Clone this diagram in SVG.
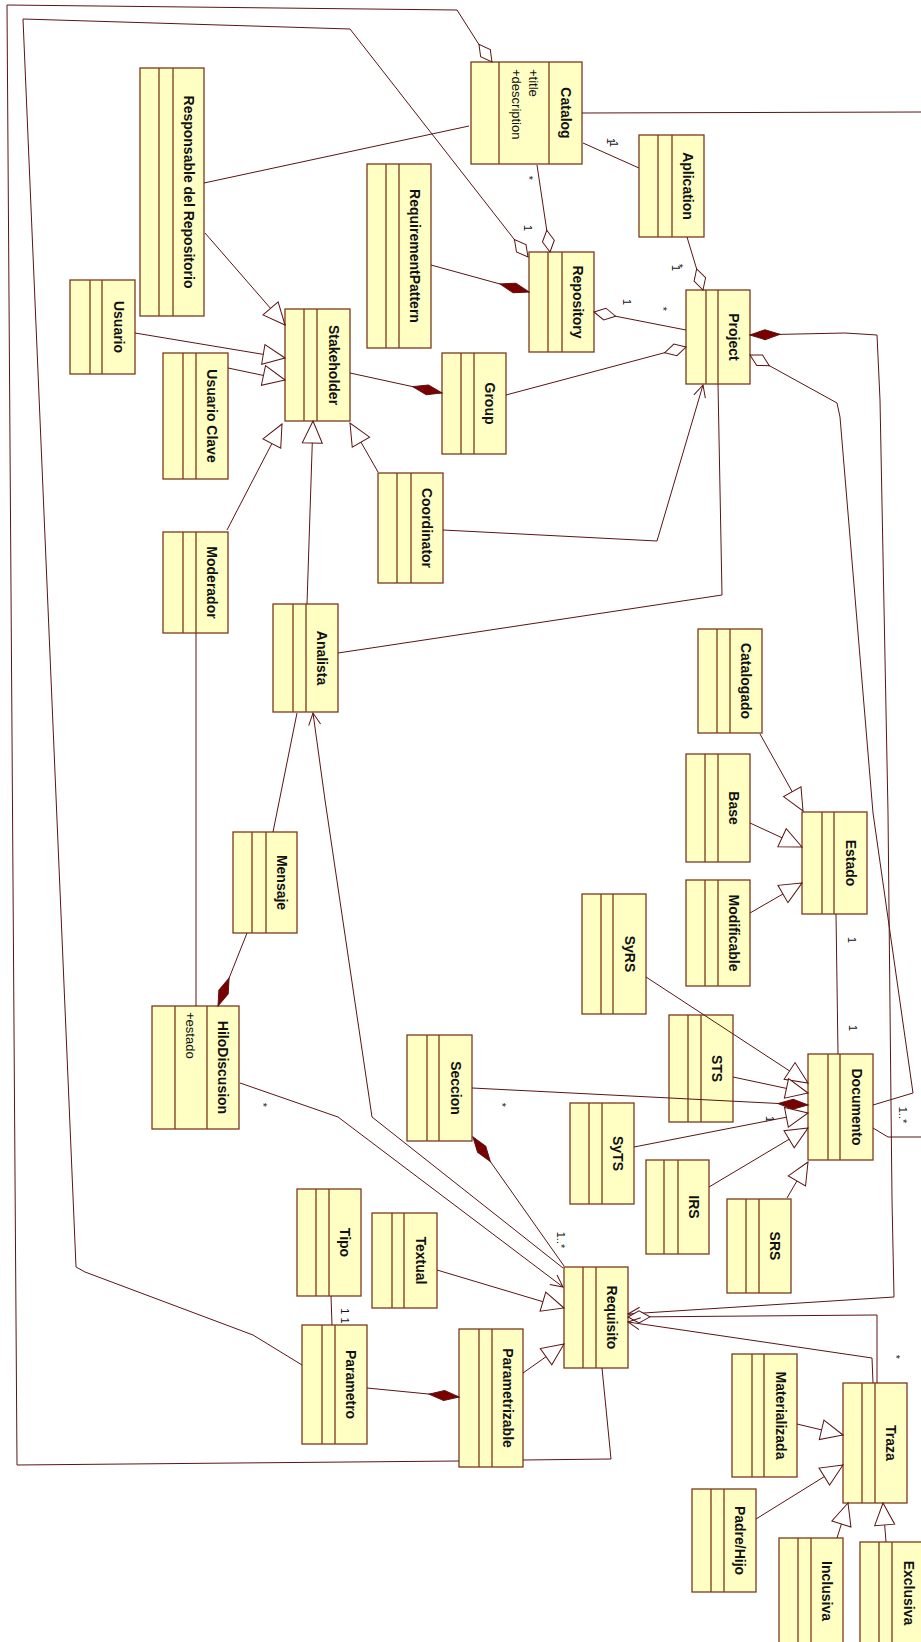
<svg xmlns="http://www.w3.org/2000/svg" width="921" height="1642" viewBox="0 0 921 1642">
<style>
.box{fill:#ffffc4;stroke:#7b3a1e;stroke-width:1.3}
.dv{fill:none;stroke:#7b3a1e;stroke-width:1.3}
.name{font-family:"Liberation Sans",Arial,sans-serif;font-weight:bold;font-size:14px;fill:#111;text-anchor:middle;dominant-baseline:central}
.attr{font-family:"Liberation Sans",Arial,sans-serif;font-size:13px;fill:#111;text-anchor:start;dominant-baseline:central}
.lbl{font-family:"Liberation Sans",Arial,sans-serif;font-size:11px;fill:#111;text-anchor:middle;dominant-baseline:central}
.c{fill:none;stroke:#5a1414;stroke-width:1}
.gen{marker-end:url(#gen)}
.comp{marker-end:url(#comp)}
.agg{marker-end:url(#agg)}
.arr{marker-end:url(#arr)}
</style>
<defs>
<marker id="gen" viewBox="-24 -12 26 24" refX="0" refY="0" markerWidth="26" markerHeight="24" orient="auto" markerUnits="userSpaceOnUse"><path d="M0,0 L-22,-10 L-22,10 Z" fill="#fff" stroke="#5a1414" stroke-width="1"/></marker>
<marker id="comp" viewBox="-32 -7 34 14" refX="0" refY="0" markerWidth="34" markerHeight="14" orient="auto" markerUnits="userSpaceOnUse"><path d="M0,0 L-15,-5 L-30,0 L-15,5 Z" fill="#7a0000" stroke="#5a1414" stroke-width="1"/></marker>
<marker id="agg" viewBox="-26 -8 28 16" refX="0" refY="0" markerWidth="28" markerHeight="16" orient="auto" markerUnits="userSpaceOnUse"><path d="M0,0 L-11,-6 L-22,0 L-11,6 Z" fill="#fff" stroke="#5a1414" stroke-width="1"/></marker>
<marker id="arr" viewBox="-14 -8 16 16" refX="0" refY="0" markerWidth="16" markerHeight="16" orient="auto-start-reverse" markerUnits="userSpaceOnUse"><path d="M-12,-6 L0,0 L-12,6" fill="none" stroke="#5a1414" stroke-width="1"/></marker>
</defs>
<rect width="921" height="1642" fill="#fff"/>

<g id="nodes">
<g id="catalog"><rect class="box" x="471" y="62" width="111" height="102"/><path class="dv" d="M499,62V164M549,62V164"/><text class="name" transform="translate(565.5,113) rotate(90)">Catalog</text><text class="attr" transform="translate(533,69) rotate(90)">+title</text><text class="attr" transform="translate(516,69) rotate(90)">+description</text></g>
<g id="responsable"><rect class="box" x="140" y="68" width="64" height="248"/><path class="dv" d="M159,68V316M173,68V316"/><text class="name" transform="translate(188.5,192) rotate(90)">Responsable del Repositorio</text></g>
<g id="requirementpattern"><rect class="box" x="367" y="164" width="64" height="184"/><path class="dv" d="M386,164V348M399,164V348"/><text class="name" transform="translate(415,256) rotate(90)">RequirementPattern</text></g>
<g id="usuario"><rect class="box" x="70" y="280" width="65" height="94"/><path class="dv" d="M90,280V374M102,280V374"/><text class="name" transform="translate(118.5,327) rotate(90)">Usuario</text></g>
<g id="stakeholder"><rect class="box" x="285" y="309" width="65" height="112"/><path class="dv" d="M304,309V421M317,309V421"/><text class="name" transform="translate(333.5,365) rotate(90)">Stakeholder</text></g>
<g id="usuarioclave"><rect class="box" x="163" y="353" width="65" height="126"/><path class="dv" d="M183,353V479M196,353V479"/><text class="name" transform="translate(212,416) rotate(90)">Usuario Clave</text></g>
<g id="group"><rect class="box" x="442" y="353" width="64" height="101"/><path class="dv" d="M461,353V454M474,353V454"/><text class="name" transform="translate(490,403.5) rotate(90)">Group</text></g>
<g id="repository"><rect class="box" x="529" y="252" width="65" height="100"/><path class="dv" d="M548,252V352M562,252V352"/><text class="name" transform="translate(578,302) rotate(90)">Repository</text></g>
<g id="aplication"><rect class="box" x="639" y="135" width="65" height="102"/><path class="dv" d="M658,135V237M672,135V237"/><text class="name" transform="translate(688,186) rotate(90)">Aplication</text></g>
<g id="project"><rect class="box" x="686" y="290" width="64" height="94"/><path class="dv" d="M706,290V384M718,290V384"/><text class="name" transform="translate(734,337) rotate(90)">Project</text></g>
<g id="moderador"><rect class="box" x="163" y="532" width="65" height="101"/><path class="dv" d="M183,532V633M196,532V633"/><text class="name" transform="translate(212,582.5) rotate(90)">Moderador</text></g>
<g id="analista"><rect class="box" x="273" y="604" width="65" height="108"/><path class="dv" d="M293,604V712M306,604V712"/><text class="name" transform="translate(322,658) rotate(90)">Analista</text></g>
<g id="coordinator"><rect class="box" x="378" y="473" width="65" height="110"/><path class="dv" d="M397,473V583M411,473V583"/><text class="name" transform="translate(427,528) rotate(90)">Coordinator</text></g>
<g id="catalogado"><rect class="box" x="698" y="629" width="64" height="104"/><path class="dv" d="M717,629V733M730,629V733"/><text class="name" transform="translate(746,681) rotate(90)">Catalogado</text></g>
<g id="base"><rect class="box" x="686" y="754" width="64" height="108"/><path class="dv" d="M705,754V862M718,754V862"/><text class="name" transform="translate(734,808) rotate(90)">Base</text></g>
<g id="modificable"><rect class="box" x="686" y="880" width="64" height="106"/><path class="dv" d="M705,880V986M718,880V986"/><text class="name" transform="translate(734,933) rotate(90)">Modificable</text></g>
<g id="estado"><rect class="box" x="802" y="812" width="65" height="102"/><path class="dv" d="M822,812V914M834,812V914"/><text class="name" transform="translate(850.5,863) rotate(90)">Estado</text></g>
<g id="syrs"><rect class="box" x="582" y="894" width="64" height="120"/><path class="dv" d="M601,894V1014M613,894V1014"/><text class="name" transform="translate(629.5,954) rotate(90)">SyRS</text></g>
<g id="sts"><rect class="box" x="669" y="1015" width="64" height="107"/><path class="dv" d="M688,1015V1122M701,1015V1122"/><text class="name" transform="translate(717,1068.5) rotate(90)">STS</text></g>
<g id="documento"><rect class="box" x="808" y="1054" width="65" height="106"/><path class="dv" d="M828,1054V1160M840,1054V1160"/><text class="name" transform="translate(856.5,1107) rotate(90)">Documento</text></g>
<g id="mensaje"><rect class="box" x="233" y="832" width="64" height="101"/><path class="dv" d="M252,832V933M266,832V933"/><text class="name" transform="translate(281.5,882.5) rotate(90)">Mensaje</text></g>
<g id="hilodiscusion"><rect class="box" x="152" y="1006" width="87" height="123"/><path class="dv" d="M175,1006V1129M207,1006V1129"/><text class="name" transform="translate(223,1067.5) rotate(90)">HiloDiscusion</text><text class="attr" transform="translate(190,1012) rotate(90)">+estado</text></g>
<g id="seccion"><rect class="box" x="407" y="1035" width="65" height="106"/><path class="dv" d="M427,1035V1141M439,1035V1141"/><text class="name" transform="translate(455.5,1088) rotate(90)">Seccion</text></g>
<g id="syts"><rect class="box" x="570" y="1103" width="64" height="101"/><path class="dv" d="M589,1103V1204M602,1103V1204"/><text class="name" transform="translate(618,1153.5) rotate(90)">SyTS</text></g>
<g id="irs"><rect class="box" x="646" y="1160" width="63" height="94"/><path class="dv" d="M664,1160V1254M678,1160V1254"/><text class="name" transform="translate(693.5,1207) rotate(90)">IRS</text></g>
<g id="srs"><rect class="box" x="727" y="1199" width="64" height="94"/><path class="dv" d="M746,1199V1293M759,1199V1293"/><text class="name" transform="translate(775,1246) rotate(90)">SRS</text></g>
<g id="tipo"><rect class="box" x="297" y="1189" width="64" height="107"/><path class="dv" d="M316,1189V1296M329,1189V1296"/><text class="name" transform="translate(345,1242.5) rotate(90)">Tipo</text></g>
<g id="textual"><rect class="box" x="372" y="1213" width="65" height="95"/><path class="dv" d="M392,1213V1308M404,1213V1308"/><text class="name" transform="translate(420.5,1260.5) rotate(90)">Textual</text></g>
<g id="requisito"><rect class="box" x="564" y="1267" width="64" height="101"/><path class="dv" d="M583,1267V1368M596,1267V1368"/><text class="name" transform="translate(612,1317.5) rotate(90)">Requisito</text></g>
<g id="parametro"><rect class="box" x="302" y="1325" width="65" height="119"/><path class="dv" d="M322,1325V1444M335,1325V1444"/><text class="name" transform="translate(351,1384.5) rotate(90)">Parametro</text></g>
<g id="parametrizable"><rect class="box" x="459" y="1329" width="64" height="138"/><path class="dv" d="M479,1329V1467M492,1329V1467"/><text class="name" transform="translate(507.5,1398) rotate(90)">Parametrizable</text></g>
<g id="materializada"><rect class="box" x="732" y="1354" width="65" height="123"/><path class="dv" d="M752,1354V1477M764,1354V1477"/><text class="name" transform="translate(780.5,1415.5) rotate(90)">Materializada</text></g>
<g id="traza"><rect class="box" x="843" y="1383" width="64" height="120"/><path class="dv" d="M862,1383V1503M875,1383V1503"/><text class="name" transform="translate(891,1443) rotate(90)">Traza</text></g>
<g id="padrehijo"><rect class="box" x="692" y="1489" width="64" height="103"/><path class="dv" d="M711,1489V1592M724,1489V1592"/><text class="name" transform="translate(740,1540.5) rotate(90)">Padre/Hijo</text></g>
<g id="inclusiva"><rect class="box" x="779" y="1538" width="64" height="112"/><path class="dv" d="M798,1538V1650M811,1538V1650"/><text class="name" transform="translate(827,1591) rotate(90)">Inclusiva</text></g>
<g id="exclusiva"><rect class="box" x="860" y="1542" width="65" height="108"/><path class="dv" d="M879,1542V1650M892,1542V1650"/><text class="name" transform="translate(908.5,1593) rotate(90)">Exclusiva</text></g>
</g>

<g id="connectors">
<path class="c agg" d="M602,1368 L611,1459 L523,1460 M459,1461 L17,1465 L7,5 L457,10 L478,43 L492,62"/>
<path class="c agg" d="M302,1365 L253,1335 L85,1272 L76,1267 L23,19 L350,29 L528,257"/>
<path class="c" d="M204,183 L469,126"/>
<path class="c gen" d="M205,233 L285,325"/>
<path class="c gen" d="M135,333 L285,358"/>
<path class="c gen" d="M228,368 L285,380"/>
<path class="c gen" d="M227,530 L282,424"/>
<path class="c gen" d="M307,604 L313,421"/>
<path class="c gen" d="M378,472 L350,423"/>
<path class="c comp" d="M350,373 L442,393"/>
<path class="c agg" d="M506,395 L686,347"/>
<path class="c comp" d="M431,265 L529,292"/>
<path class="c agg" d="M537,165 L550,252"/>
<path class="c" d="M583,143 L639,168"/>
<path class="c agg" d="M687,237 L703,290"/>
<path class="c agg" d="M686,330 L594,312"/>
<path class="c comp" style="marker-start:url(#arr)" d="M628,1314 L894,1297 L892,1200 L888,813 L880,400 L877,335 L845,333 L750,335"/>
<path class="c agg" d="M873,1105 L913,1093 L873,813 L840,417 L837,403 L750,355"/>
<path class="c" d="M582,113 L921,112"/>
<path class="c" d="M873,1128 L888,1137 L921,1137"/>
<path class="c" d="M338,653 L722,595 L718,384"/>
<path class="c arr" d="M443,530 L657,541 L703,385"/>
<path class="c" d="M196,633 L196,1006"/>
<path class="c comp" d="M247,933 L218,1006"/>
<path class="c" d="M273,832 L297,713"/>
<path class="c arr" d="M563,1268 L372,1117 L325,800 L313,713"/>
<path class="c arr" d="M240,1083 L338,1117 L563,1287"/>
<path class="c comp" d="M564,1266 L473,1137"/>
<path class="c comp" d="M472,1088 L808,1105"/>
<path class="c gen" d="M646,977 L808,1083"/>
<path class="c gen" d="M733,1077 L808,1093"/>
<path class="c gen" d="M634,1147 L808,1113"/>
<path class="c gen" d="M709,1187 L808,1128"/>
<path class="c gen" d="M787,1198 L808,1162"/>
<path class="c" d="M836,914 L838,1054"/>
<path class="c gen" d="M760,734 L803,811"/>
<path class="c gen" d="M750,823 L802,847"/>
<path class="c gen" d="M750,913 L802,883"/>
<path class="c gen" d="M437,1270 L564,1308"/>
<path class="c gen" d="M523,1373 L564,1344"/>
<path class="c comp" d="M367,1388 L459,1397"/>
<path class="c" d="M331,1296 L332,1325"/>
<path class="c agg" d="M877,1383 L877,1315 L628,1317"/>
<path class="c arr" d="M873,1383 L872,1358 L628,1322"/>
<path class="c gen" d="M797,1424 L843,1435"/>
<path class="c gen" d="M756,1519 L843,1465"/>
<path class="c gen" d="M837,1538 L848,1503"/>
<path class="c gen" d="M886,1542 L883,1503"/>
</g>

<g id="labels">
<text class="lbl" transform="translate(529,178) rotate(90)">*</text>
<text class="lbl" transform="translate(528,228) rotate(90)">1</text>
<text class="lbl" transform="translate(611,141) rotate(90)">1</text>
<text class="lbl" transform="translate(614,144) rotate(90)">1</text>
<text class="lbl" transform="translate(676,268) rotate(90)">1</text>
<text class="lbl" transform="translate(679,266) rotate(90)">*</text>
<text class="lbl" transform="translate(627,302) rotate(90)">1</text>
<text class="lbl" transform="translate(663,309) rotate(90)">*</text>
<text class="lbl" transform="translate(263,1105) rotate(90)">*</text>
<text class="lbl" transform="translate(502,1105) rotate(90)">*</text>
<text class="lbl" transform="translate(770,1119) rotate(90)">1</text>
<text class="lbl" transform="translate(852,940) rotate(90)">1</text>
<text class="lbl" transform="translate(853,1028) rotate(90)">1</text>
<text class="lbl" transform="translate(903,1115) rotate(90)">1..*</text>
<text class="lbl" transform="translate(561,1240) rotate(90)">1..*</text>
<text class="lbl" transform="translate(896,1357) rotate(90)">*</text>
<text class="lbl" transform="translate(345,1316) rotate(90)">1 1</text>
</g>
</svg>
